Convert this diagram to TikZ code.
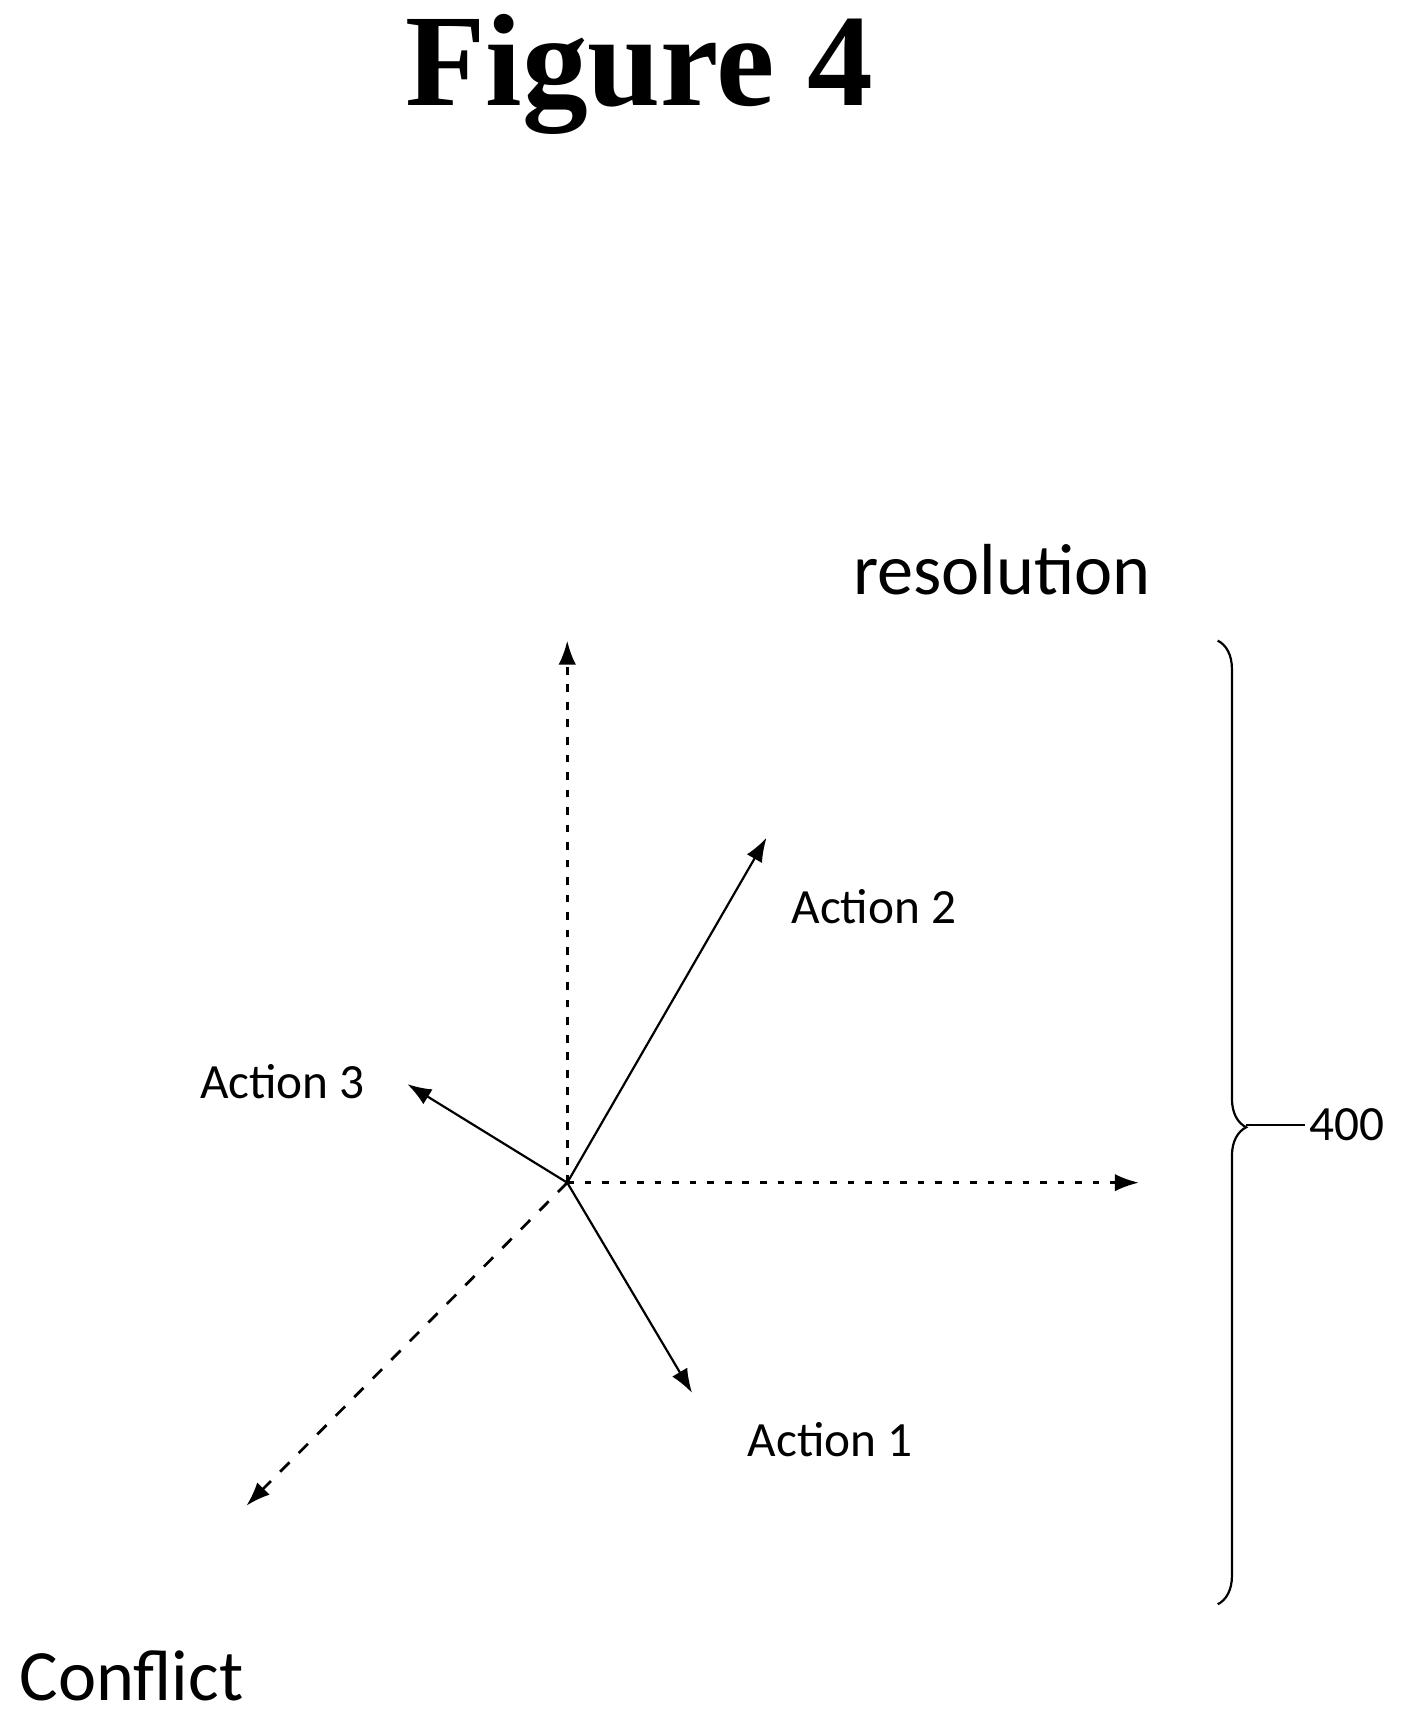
\documentclass[tikz,border=0pt]{standalone}
\usepackage{fontspec}
\setmainfont{Carlito}
\newfontfamily\titlefont{Liberation Serif}
\usetikzlibrary{positioning,decorations.pathreplacing,arrows.meta}

\begin{document}
\begin{tikzpicture}[x=1pt,y=-1pt,
axis/.style={
  line width=2.5pt,
  -{Latex[length=22pt,width=16pt]}
},
act/.style={
  line width=2pt,
  -{Latex[length=22pt,width=16pt]}
},
lbl/.style={
  font=\fontsize{45}{52}\selectfont
}
]
\useasboundingbox (0,0) rectangle (1300,1578);
\node[font=\titlefont\bfseries\fontsize{120}{126}\selectfont] (title) at (584,68) {Figure 4};

\coordinate (o) at (518,1080);
\coordinate (up) at (518,585);
\coordinate (right) at (1040,1080);
\coordinate (down) at (225,1375);
\coordinate (a1) at (632,1272);
\coordinate (a2) at (700,765);
\coordinate (a3) at (372,990);

\draw[axis,dash pattern=on 7pt off 9pt] (o) -- (up);
\draw[axis,dash pattern=on 6pt off 10pt] (o) -- (right);
\draw[axis,dash pattern=on 12pt off 12pt] (o) -- (down);
\draw[act] (o) -- (a1);
\draw[act] (o) -- (a2);
\draw[act] (o) -- (a3);

\node[lbl] (l1) at (758,1315) {Action 1};
\node[lbl] (l2) at (798,828) {Action 2};
\node[lbl] (l3) at (258,988) {Action 3};
\node[font=\fontsize{66}{74}\selectfont] (res) at (915,520) {resolution};
\node[font=\fontsize{66}{74}\selectfont] (conf) at (120,1530) {Conflict};

\draw[line width=2pt,decorate,decoration={brace,amplitude=26pt,aspect=0.505}] (1112,585) -- (1112,1465);
\node[lbl,anchor=west] (num) at (1192,1027) {400};
\draw[line width=2pt] (1138,1027) -- (num);
\end{tikzpicture}
\end{document}
